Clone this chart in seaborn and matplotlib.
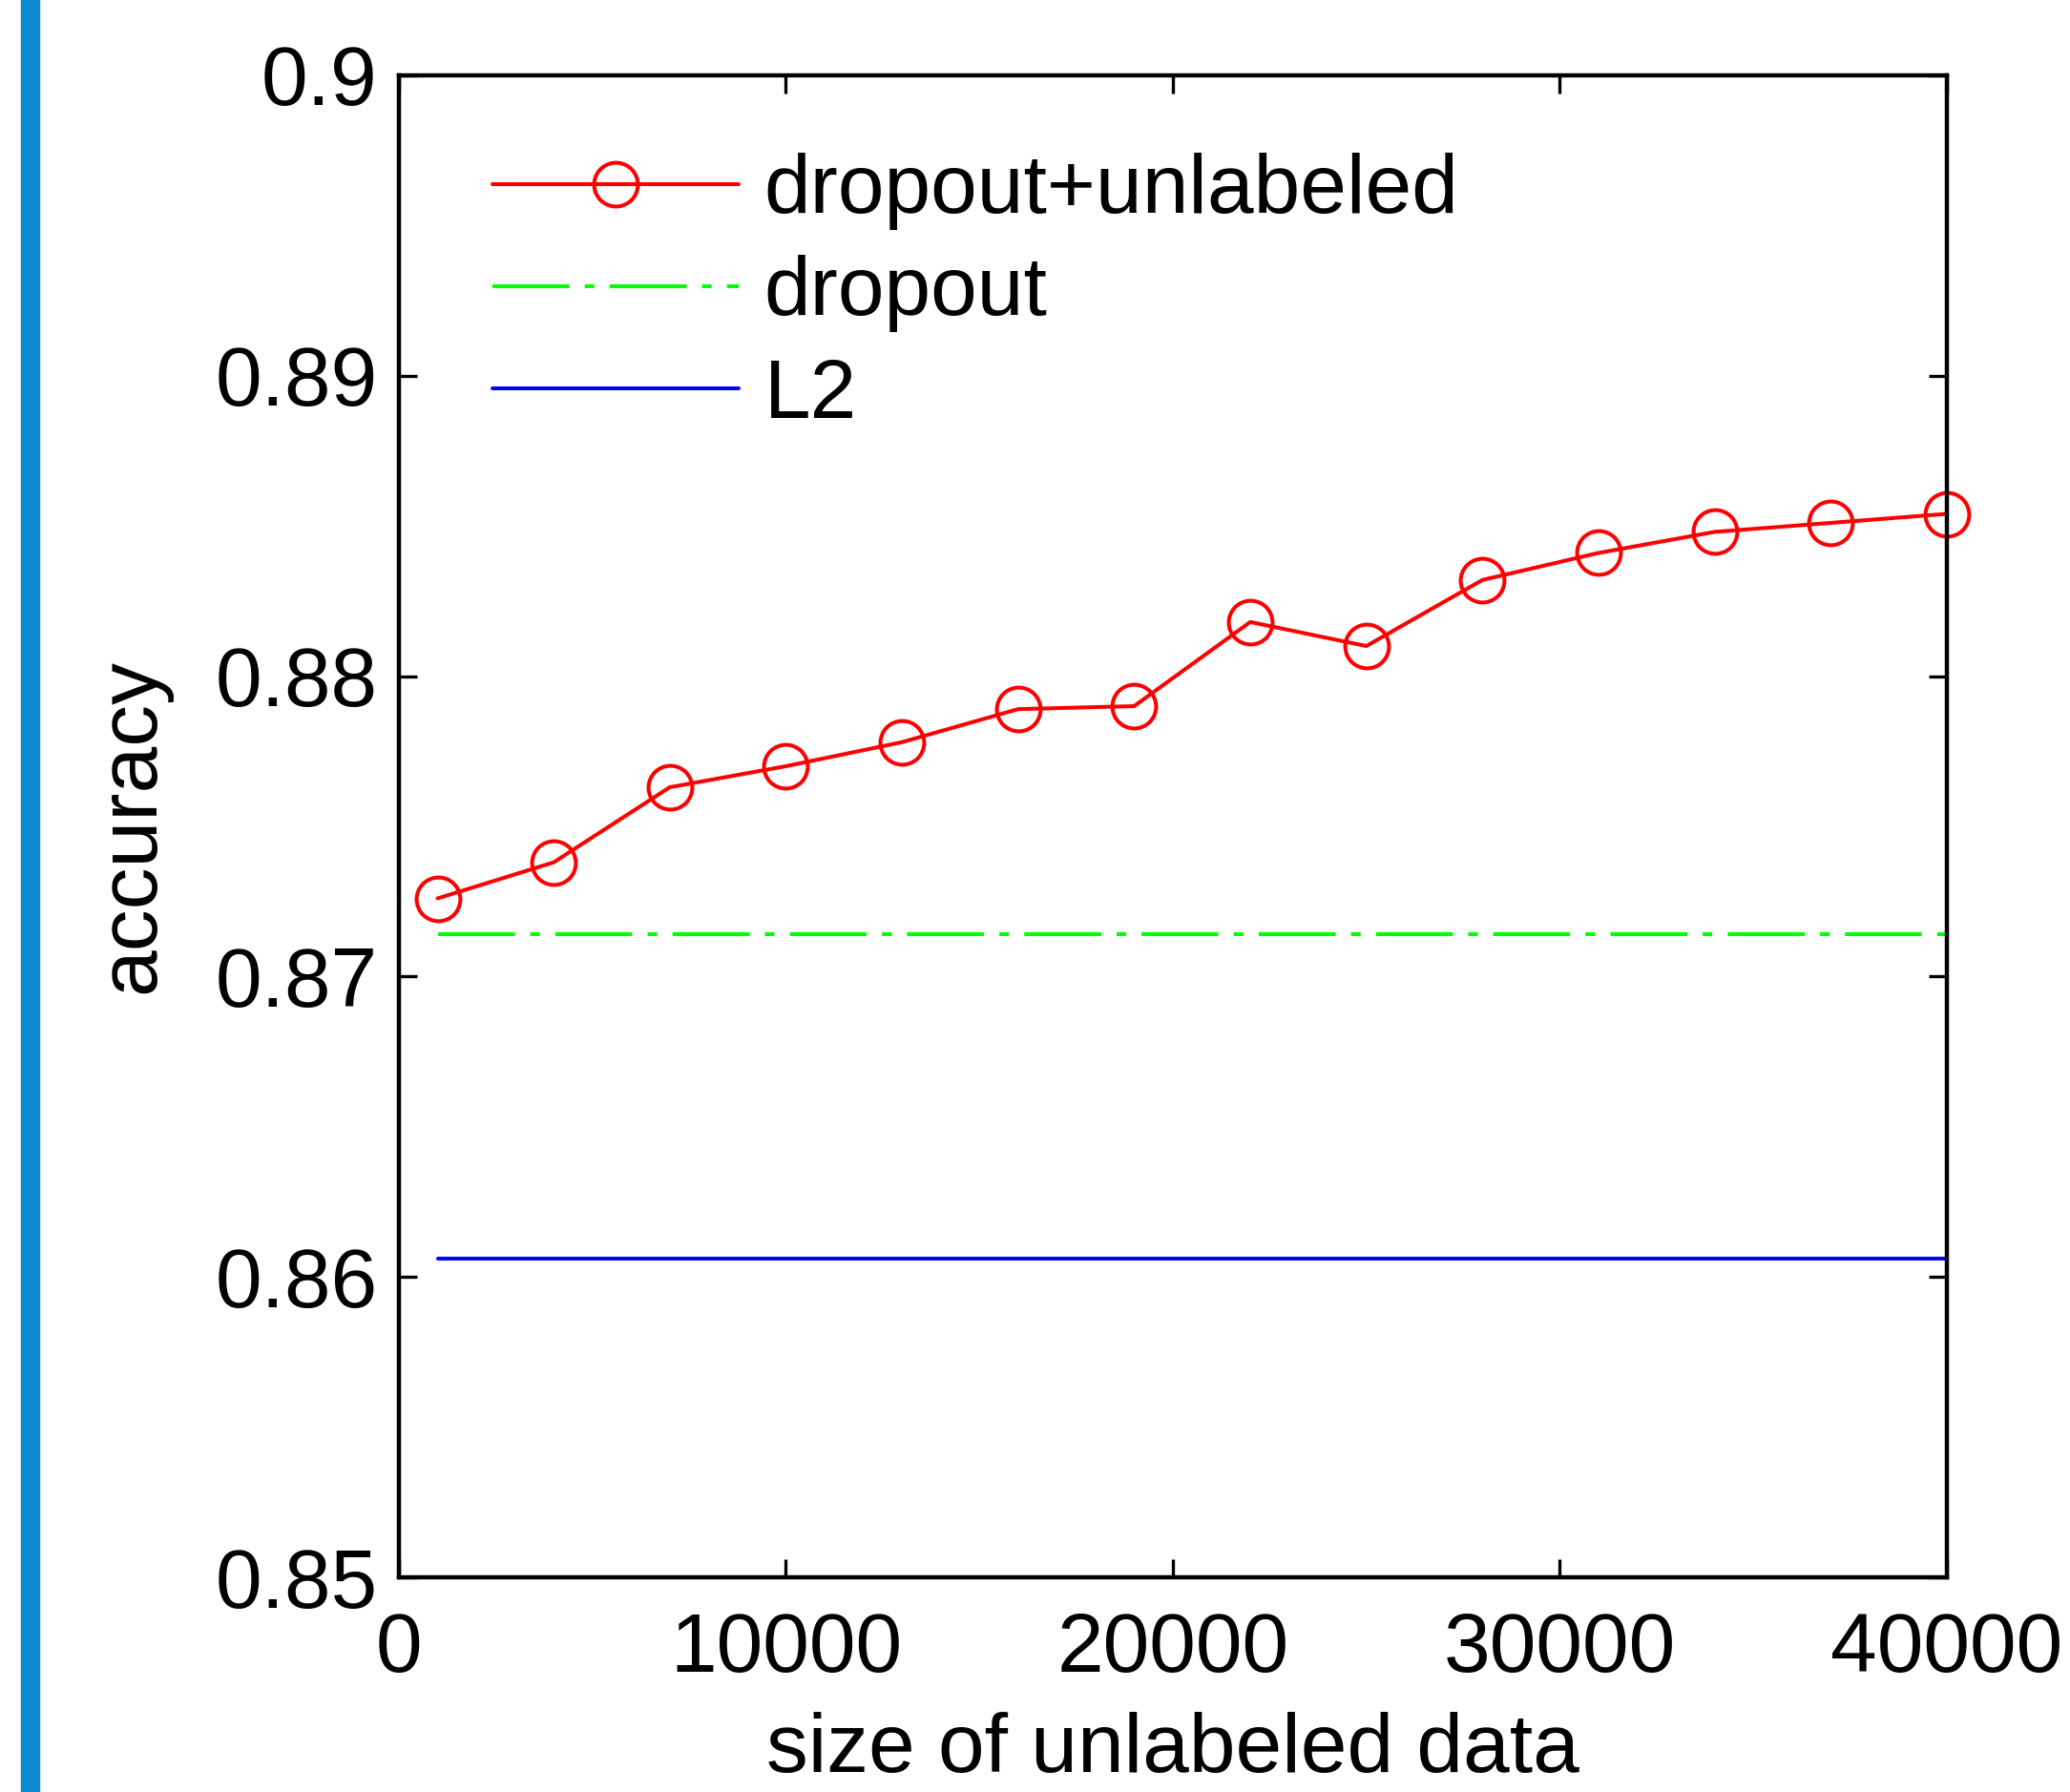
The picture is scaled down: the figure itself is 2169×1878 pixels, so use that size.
import pandas as pd
import matplotlib.pyplot as plt
import seaborn as sns

# data
sizes = [1000, 4000, 7000, 10000, 13000, 16000, 19000, 22000, 25000, 28000, 31000, 34000, 37000, 40000]
acc_unlabeled = [0.8726, 0.8738, 0.8763, 0.8770, 0.8778, 0.8789, 0.8790, 0.8818, 0.8810, 0.8832,
                 0.8841, 0.8848, 0.8851, 0.8854]
acc_dropout = 0.8714
acc_l2 = 0.8606

x_ticks = [0, 10000, 20000, 30000, 40000]
x_tick_labels = ['0', '10000', '20000', '30000', '40000']
y_ticks = [0.85, 0.86, 0.87, 0.88, 0.89, 0.9]
y_tick_labels = ['0.85', '0.86', '0.87', '0.88', '0.89', '0.9']

df = pd.DataFrame({
    'size': sizes,
    'dropout+unlabeled': acc_unlabeled,
    'dropout': [acc_dropout] * len(sizes),
    'L2': [acc_l2] * len(sizes),
})

sns.set_style('ticks')
plt.rcParams['font.family'] = ['Liberation Sans', 'DejaVu Sans']
plt.rcParams['text.color'] = 'black'
plt.rcParams['axes.labelcolor'] = 'black'

fig = plt.figure(figsize=(21.69, 18.78), dpi=100)
ax = fig.add_axes([0.1927, 0.1198, 0.7478, 0.8382])

# blue stripe on the left edge
fig.patches.append(plt.Rectangle((22 / 2169, 0), 19 / 2169, 1, transform=fig.transFigure,
                                 color='#0E88CE', zorder=0))

lw = 2.9
sns.lineplot(data=df, x='size', y='dropout+unlabeled', ax=ax, color='#FF0000', linewidth=lw,
             marker='o', markersize=33, markerfacecolor='none', markeredgecolor='#FF0000',
             markeredgewidth=lw, label='dropout+unlabeled')
sns.lineplot(data=df, x='size', y='dropout', ax=ax, color='#00FF00', linewidth=lw,
             label='dropout', dashes=False)
ax.lines[-1].set_dashes((20, 4, 2.5, 4))
sns.lineplot(data=df, x='size', y='L2', ax=ax, color='#0000FF', linewidth=lw, label='L2')
for line in ax.lines:
    line.set_clip_on(False)

ax.set_xlim(0, 40000)
ax.set_ylim(0.85, 0.9)
ax.set_xticks(x_ticks)
ax.set_xticklabels(x_tick_labels)
ax.set_yticks(y_ticks)
ax.set_yticklabels(y_tick_labels)
ax.tick_params(axis='both', direction='in', length=14, width=2.4, labelsize=63,
               top=True, right=True, colors='black')
ax.tick_params(axis='x', pad=26)
ax.tick_params(axis='y', pad=16)

for sp in ax.spines.values():
    sp.set_visible(True)
    sp.set_linewidth(3.2)
    sp.set_color('black')

ax.set_xlabel('size of unlabeled data', fontsize=63, labelpad=17)
ax.set_ylabel('accuracy', fontsize=63, labelpad=33)

leg = ax.legend(loc='upper left', frameon=False, fontsize=63, handlelength=2.95,
                handletextpad=0.3, labelspacing=0.3, borderaxespad=0.0,
                bbox_to_anchor=(0.039, 0.9706))
for line in leg.get_lines():
    line.set_linewidth(lw)

fig.savefig('out.png', dpi=100, facecolor='white')
plt.close(fig)
